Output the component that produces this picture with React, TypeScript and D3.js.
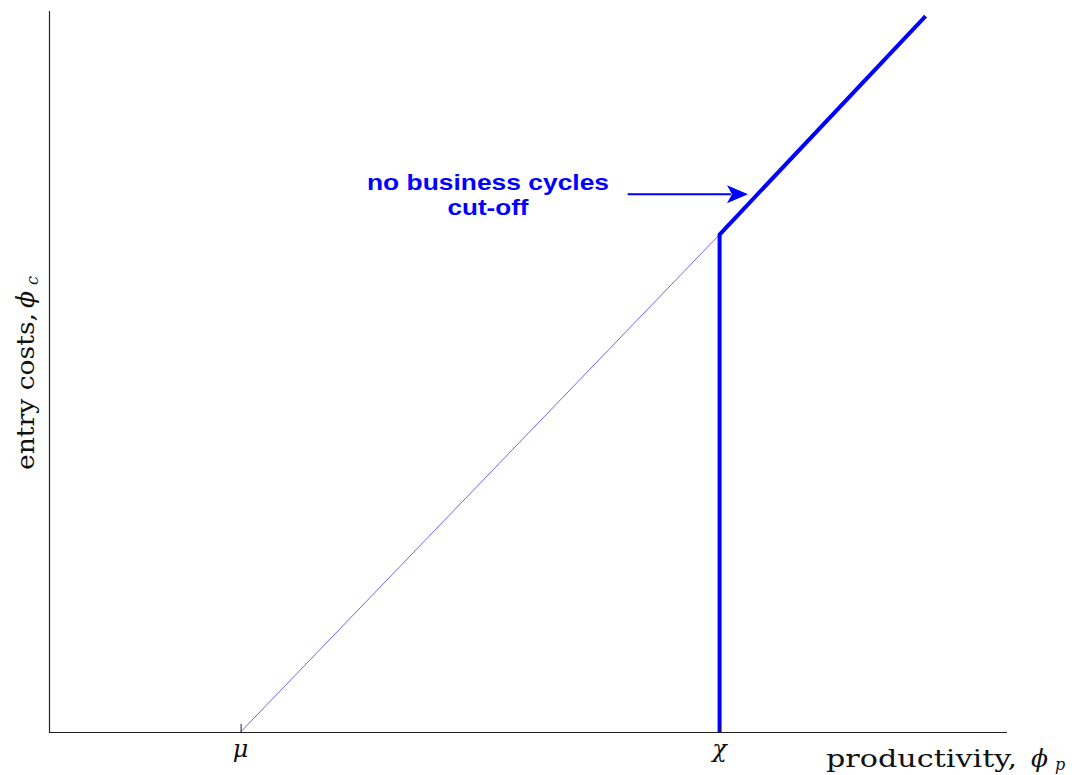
import React from "react";
import * as d3 from "d3";

const W = 1078;
const H = 775;

// data (x: productivity, y: entry costs), domain [0,1]
const tickValues = [0.2, 0.7];
const tickLabels = ["μ", "χ"];
const thinLine: [number, number][] = [
  [0.2, 0],
  [0.7, 0.69],
];
const thickLine: [number, number][] = [
  [0.7, 0],
  [0.7, 0.69],
  [0.915, 0.993],
];
const annotationLines = ["no business cycles", "cut-off"];
const arrowFrom: [number, number] = [0.604, 0.746];
const arrowTo: [number, number] = [0.7077, 0.746];

export default function App() {
  const x = d3.scaleLinear().domain([0, 1]).range([49, 1007]);
  const y = d3.scaleLinear().domain([0, 1]).range([732, 11]);
  const line = d3
    .line<[number, number]>()
    .x((d) => x(d[0]))
    .y((d) => y(d[1]));

  const ax0 = x(arrowFrom[0]);
  const ay = y(arrowFrom[1]);
  const ax1 = x(arrowTo[0]);
  const tipX = ax1 + 21;
  const headPath = `M${tipX},${ay} L${ax1},${ay - 9} L${ax1 + 5},${ay} L${ax1},${ay + 9} Z`;
  const serif = "'DejaVu Serif', serif";

  return (
    <svg
      width={W}
      height={H}
      style={{ position: "absolute", left: 0, top: 0, background: "#fff" }}
    >
      {/* thin line */}
      <path d={line(thinLine) || ""} fill="none" stroke="#0000ff" strokeWidth={0.6} />
      {/* thick line */}
      <path
        d={line(thickLine) || ""}
        fill="none"
        stroke="#0000ff"
        strokeWidth={4}
        strokeLinejoin="miter"
      />
      {/* axes */}
      <line x1={49.5} x2={49.5} y1={y(1)} y2={732.5} stroke="#222" strokeWidth={1.2} />
      <line x1={49} x2={1007} y1={732.5} y2={732.5} stroke="#222" strokeWidth={1.2} />
      {tickValues.map((t, i) => (
        <g key={i}>
          <line
            x1={x(t) + 0.5}
            x2={x(t) + 0.5}
            y1={724}
            y2={732}
            stroke="#222"
            strokeWidth={1}
          />
          <text
            x={x(t)}
            y={757}
            textAnchor="middle"
            fontFamily={serif}
            fontStyle="italic"
            fontSize={24}
            fill="#111"
          >
            {tickLabels[i]}
          </text>
        </g>
      ))}
      {/* x axis label */}
      <g fontFamily={serif} fill="#111">
        <text x={826} y={767} fontSize={24} textLength={191} lengthAdjust="spacingAndGlyphs">
          productivity,
        </text>
        <text x={1031} y={767} fontSize={25} fontStyle="italic">
          ϕ
        </text>
        <text x={1055} y={770} fontSize={16} fontStyle="italic">
          p
        </text>
      </g>
      {/* y axis label */}
      <g fontFamily={serif} fill="#111" transform="rotate(-90)">
        <text x={-470} y={34} fontSize={24} textLength={157} lengthAdjust="spacingAndGlyphs">
          entry costs,
        </text>
        <text x={-308} y={34} fontSize={25} fontStyle="italic">
          ϕ
        </text>
        <text x={-285} y={38} fontSize={16} fontStyle="italic">
          c
        </text>
      </g>
      {/* annotation */}
      {annotationLines.map((s, i) => (
        <text
          key={i}
          x={488}
          y={190 + i * 25}
          textAnchor="middle"
          fontFamily="'Liberation Sans', Arial, sans-serif"
          fontWeight="bold"
          fontSize={22}
          fill="#0000ff"
          textLength={i === 0 ? 242 : 81}
          lengthAdjust="spacingAndGlyphs"
        >
          {s}
        </text>
      ))}
      <line x1={ax0} x2={ax1 + 4} y1={ay} y2={ay} stroke="#0000ff" strokeWidth={2} />
      <path d={headPath} fill="#0000ff" />
    </svg>
  );
}
